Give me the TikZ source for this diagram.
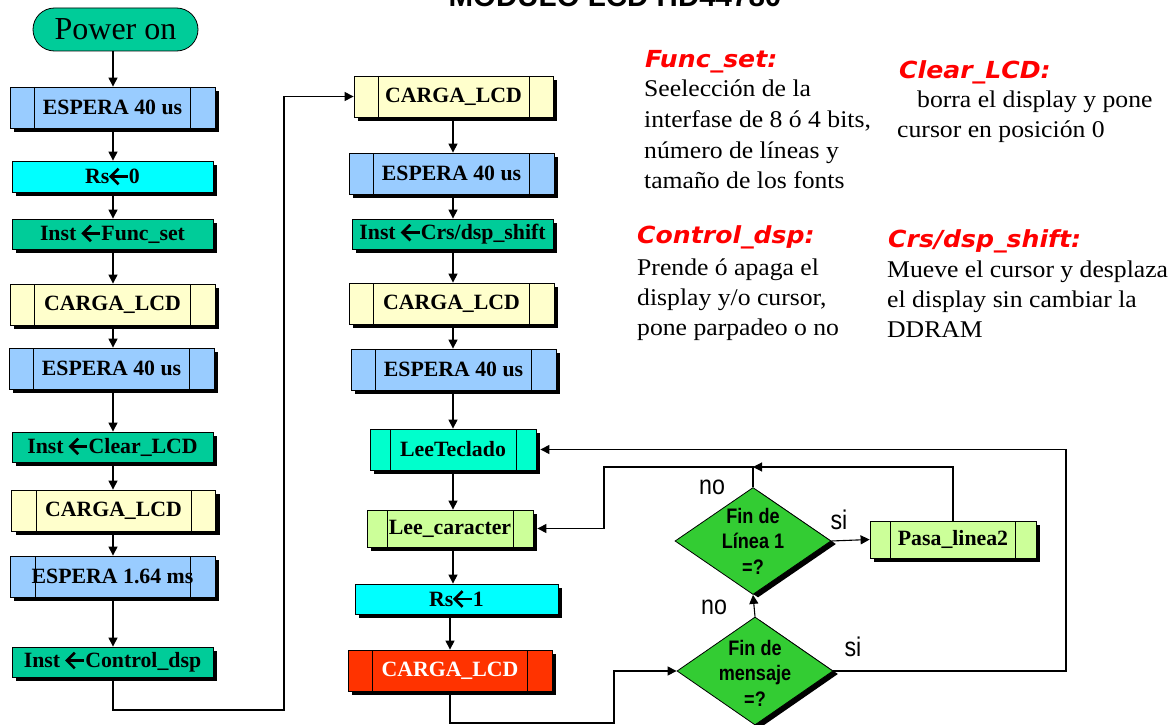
\documentclass[tikz,border=0pt]{standalone}
\usepackage{fontspec}
\setmainfont{Liberation Serif}
\newfontfamily\arialfont{Liberation Sans}
\newfontfamily\narrowfont[FakeStretch=0.86]{Liberation Sans}
\newfontfamily\widefont[FakeStretch=1.07]{Liberation Serif}
\newfontfamily\headfont[FakeStretch=1.07]{DejaVu Sans}
\usetikzlibrary{arrows.meta,shapes.geometric,shadows}

\definecolor{espera}{HTML}{99CCFF}
\definecolor{rscol}{HTML}{00FFFF}
\definecolor{inst}{HTML}{00CC99}
\definecolor{carga}{HTML}{FFFFCC}
\definecolor{teclado}{HTML}{00FFCC}
\definecolor{lima}{HTML}{CCFF99}
\definecolor{rojo}{HTML}{FF3300}
\definecolor{verde}{HTML}{33CC33}
\definecolor{titred}{HTML}{FF0000}

% bold left arrow used inside the instruction boxes
\newcommand{\larr}{\tikz[baseline=0pt]{%
  \draw[line width=0.12em] (0.88em,0.34em) -- (0.12em,0.34em);
  \draw[line width=0.12em, line join=miter] (0.46em,0.70em) -- (0.1em,0.34em) -- (0.46em,-0.02em);}}

\newcommand{\boxfont}{\bfseries\fontsize{21.8}{24}\selectfont}
\newcommand{\bodyfont}{\widefont\fontsize{24}{27}\selectfont}
\newcommand{\headingfont}{\headfont\bfseries\itshape\fontsize{23.5}{26}\selectfont}

\tikzset{
  box/.style={draw=black, line width=0.8pt, inner sep=0pt, font=\boxfont,
    general shadow={fill=black, shadow xshift=4pt, shadow yshift=-4pt}},
  proc/.style={box, path picture={
    \draw[line width=0.8pt]
      ([xshift=#1]path picture bounding box.north west) -- ([xshift=#1]path picture bounding box.south west)
      ([xshift=-#1]path picture bounding box.north east) -- ([xshift=-#1]path picture bounding box.south east);}},
  decision/.style={diamond, draw=black, line width=0.8pt, fill=verde, inner sep=0pt,
    general shadow={fill=black, shadow xshift=5pt, shadow yshift=-3pt}},
  dtext/.style={font=\narrowfont\bfseries\fontsize{21}{25.5}\selectfont, align=center, inner sep=0pt},
  yesno/.style={font=\narrowfont\fontsize{27}{29}\selectfont, inner sep=0pt},
  line/.style={line width=1.1pt},
  conn/.style={line width=1.1pt, -{Triangle[length=9pt,width=9pt]}},
  head/.style={font=\headingfont, text=titred, anchor=base west, inner sep=0pt},
  body/.style={font=\bodyfont, anchor=base west, inner sep=0pt},
}

\begin{document}
\begin{tikzpicture}[x=1pt, y=-1pt]
\useasboundingbox (0,0) rectangle (1171,725);
\clip (0,0) rectangle (1171,725);

% title
\node[font=\arialfont\bfseries\fontsize{29.5}{32}\selectfont, anchor=base, inner sep=0pt] (title) at (615,6.5) {MODULO LCD HD44780};

% start terminal
\node[draw=black, line width=0.8pt, fill=inst, rounded corners=21.5pt, minimum width=165pt, minimum height=43pt,
      inner sep=0pt, font=\fontsize{32}{34}\selectfont] (pwr) at (115.5,29.5) {Power on};

% initialisation column
\node[proc=24.5pt, fill=espera, minimum width=205pt, minimum height=41pt] (e1) at (112.5,107.5) {ESPERA 40 us};
\node[box, fill=rscol, minimum width=201pt, minimum height=31pt] (rs0) at (112.5,176.5) {Rs\larr0};
\node[box, fill=inst, minimum width=201pt, minimum height=30pt] (fs) at (112.5,234) {Inst \larr Func\_set};
\node[proc=24.5pt, fill=carga, minimum width=205pt, minimum height=41pt] (c1) at (112.5,304.5) {CARGA\_LCD};
\node[proc=24.5pt, fill=espera, minimum width=205pt, minimum height=41pt] (e2) at (111.5,368.5) {ESPERA 40 us};
\node[box, fill=inst, minimum width=201pt, minimum height=30pt] (cl) at (112.5,447) {Inst \larr Clear\_LCD};
\node[proc=24.5pt, fill=carga, minimum width=204pt, minimum height=41pt] (c2) at (113.5,510.5) {CARGA\_LCD};
\node[proc=25pt, fill=espera, minimum width=205pt, minimum height=41pt] (e3) at (112.5,576.5) {ESPERA 1.64 ms};
\node[box, fill=inst, minimum width=201pt, minimum height=30pt] (cd) at (112.5,662) {Inst \larr Control\_dsp};

% second column
\node[proc=24pt, fill=carga, minimum width=199pt, minimum height=41pt] (m1) at (453.5,96.5) {CARGA\_LCD};
\node[proc=24.5pt, fill=espera, minimum width=205pt, minimum height=41pt] (m2) at (451.5,173.5) {ESPERA 40 us};
\node[box, fill=inst, minimum width=201pt, minimum height=30pt] (m3) at (452.5,234) {Inst \larr Crs/dsp\_shift};
\node[proc=24.5pt, fill=carga, minimum width=205pt, minimum height=41pt] (m4) at (451.5,303.5) {CARGA\_LCD};
\node[proc=24.5pt, fill=espera, minimum width=205pt, minimum height=41pt] (m5) at (453.5,369.5) {ESPERA 40 us};
\node[proc=20pt, fill=teclado, minimum width=166pt, minimum height=41pt] (lt) at (453,449.5) {LeeTeclado};
\node[proc=20pt, fill=lima, minimum width=166pt, minimum height=37pt] (lc) at (450,528.5) {Lee\_caracter};
\node[box, fill=rscol, minimum width=203pt, minimum height=30pt] (rs1) at (456.5,599) {Rs\larr1};
\node[proc=24.5pt, fill=rojo, minimum width=204pt, minimum height=41pt, text=white] (cr) at (450,670.5) {CARGA\_LCD};

% decisions
\node[decision, minimum width=156pt, minimum height=107pt] (d1) at (753,541) {};
\node[dtext] (d1t) at (d1.center) {Fin de\\Línea 1\\=?};
\node[decision, minimum width=156pt, minimum height=108pt] (d2) at (755,671) {};
\node[dtext] (d2t) at (755,673) {Fin de\\mensaje\\=?};
\node[proc=20.5pt, fill=lima, minimum width=166pt, minimum height=37pt] (pl) at (953,539.5) {Pasa\_linea2};

% branch labels
\node[yesno] (no1) at (712,487) {no};
\node[yesno] (no2) at (714,607) {no};
\node[yesno] (si1) at (839,520) {si};
\node[yesno] (si2) at (853,647) {si};

% connectors, first column (vertical line at x = 113)
\coordinate (col1) at (113,0);
\draw[conn] (col1 |- pwr.south) -- (col1 |- e1.north);
\draw[conn] (col1 |- e1.south) -- (col1 |- rs0.north);
\draw[conn] (col1 |- rs0.south) -- (col1 |- fs.north);
\draw[conn] (col1 |- fs.south) -- (col1 |- c1.north);
\draw[conn] (col1 |- c1.south) -- (col1 |- e2.north);
\draw[conn] (col1 |- e2.south) -- (col1 |- cl.north);
\draw[conn] (col1 |- cl.south) -- (col1 |- c2.north);
\draw[conn] (col1 |- c2.south) -- (col1 |- e3.north);
\draw[conn] (col1 |- e3.south) -- (col1 |- cd.north);
\coordinate (lp1) at (284,710);
\draw[conn] (col1 |- cd.south) |- (lp1) |- (m1.west);

% connectors, second column (vertical line at x = 453)
\coordinate (col2) at (453,0);
\draw[conn] (col2 |- m1.south) -- (col2 |- m2.north);
\draw[conn] (col2 |- m2.south) -- (col2 |- m3.north);
\draw[conn] (col2 |- m3.south) -- (col2 |- m4.north);
\draw[conn] (col2 |- m4.south) -- (col2 |- m5.north);
\draw[conn] (col2 |- m5.south) -- (col2 |- lt.north);
\draw[conn] (col2 |- lt.south) -- (col2 |- lc.north);
\draw[conn] (col2 |- lc.south) -- (col2 |- rs1.north);
\draw[conn] (cr.north |- rs1.south) -- (cr.north);
\coordinate (b1) at (614,723);
\draw[conn] (cr.south) |- (b1) |- (d2.west);

% decision loops
\draw[conn] (d2.north) -- (d1.south);
\draw[conn] (d1.east) -- (pl.west);
\coordinate (j1) at (753,467);
\coordinate (k1) at (604,467);
\draw[conn] (pl.north) |- (j1);
\draw[conn] (d1.north) |- (k1) |- ([xshift=4pt]lc.east);
\coordinate (r1) at (1066,450);
\draw[conn] (d2.east) -| (r1) |- ([xshift=4pt]lt.east);

% notes
\node[head] (h1) at (645,67) {Func\_set:};
\node[body] (h1a) at (644,97) {Seelección de la};
\node[body] (h1b) at (644,128) {interfase de 8 ó 4 bits,};
\node[body] (h1c) at (644,158) {número de líneas y};
\node[body] (h1d) at (644,188) {tamaño de los fonts};

\node[head] (h2) at (899,79) {Clear\_LCD:};
\node[body] (h2a) at (917,107) {borra el display y pone};
\node[body] (h2b) at (897,137) {cursor en posición 0};

\node[head] (h3) at (637,243) {Control\_dsp:};
\node[body] (h3a) at (637,275) {Prende ó apaga el};
\node[body] (h3b) at (637,305) {display y/o cursor,};
\node[body] (h3c) at (637,335) {pone parpadeo o no};

\node[head] (h4) at (888,247) {Crs/dsp\_shift:};
\node[body] (h4a) at (887,277) {Mueve el cursor y desplaza};
\node[body] (h4b) at (887,307) {el display sin cambiar la};
\node[body] (h4c) at (887,337) {DDRAM};
\end{tikzpicture}
\end{document}
